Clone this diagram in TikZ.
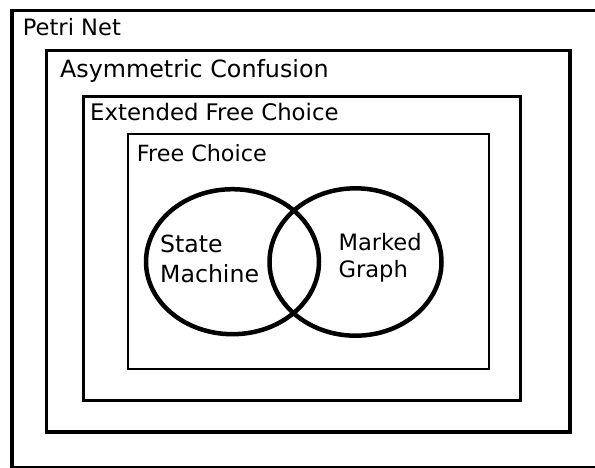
\documentclass[tikz,border=0pt]{standalone}
\usepackage{fontspec}
\setmainfont{DejaVu Sans}
\begin{document}
\begin{tikzpicture}[x=1pt,y=-1pt,
  lbl/.style={anchor=base west,inner sep=0pt,font=\fontsize{#1}{27}\selectfont},
  lbl/.default=22.6,
  box/.style={draw=black,line join=miter}]
\useasboundingbox (0,0) rectangle (595,467);
\fill[white] (0,0) rectangle (595,467);
% nested boxes
\draw[box,line width=3.5pt] (12,10.5) rectangle (605,467.5);
\draw[box,line width=3.5pt] (46.7,50.7) rectangle (569.8,432);
\draw[box,line width=2.8pt] (83.3,96.7) rectangle (520.5,400.5);
\draw[box,line width=2pt] (128.3,134.3) rectangle (489.3,368.5);
% ellipses
\draw[line width=4.5pt] (232.5,261.7) ellipse [x radius=86.5, y radius=72.5];
\draw[line width=4.5pt] (355.5,262) ellipse [x radius=86, y radius=73.7];
% labels
\node[lbl] (pn) at (22.7,35) {Petri Net};
\node[lbl=23.8] (ac) at (60,77.7) {Asymmetric Confusion};
\node[lbl=22.8] (efc) at (90,120) {Extended Free Choice};
\node[lbl=22.3] (fc) at (136.7,161.7) {Free Choice};
\node[lbl=23.6] (sm1) at (160,252.7) {State};
\node[lbl=23.6] (sm2) at (160,282.7) {Machine};
\node[lbl=22.6] (mg1) at (338.3,250) {Marked};
\node[lbl=22.6] (mg2) at (338.3,277.3) {Graph};
\end{tikzpicture}
\end{document}
